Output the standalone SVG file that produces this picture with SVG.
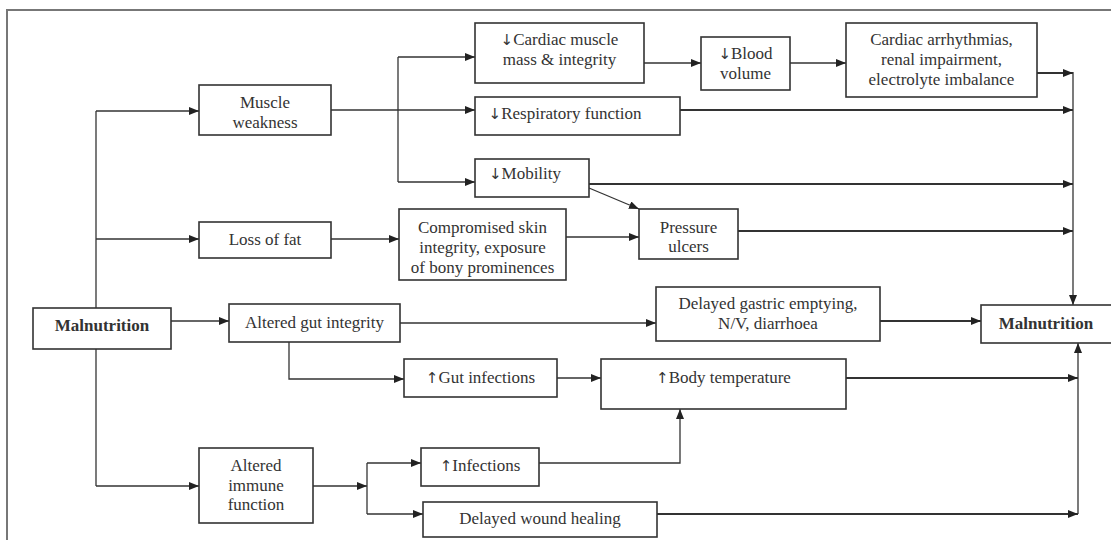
<svg xmlns="http://www.w3.org/2000/svg" width="1111" height="540" viewBox="0 0 1111 540">
<style>
.box{fill:#fff;stroke:#333;stroke-width:1.6}
.t{font-family:"Liberation Serif","Times New Roman",serif;font-size:17px;fill:#333;text-anchor:middle}
.b{font-weight:bold}
.ar{font-family:"DejaVu Sans",sans-serif;font-size:15px;fill:#333}
.c{fill:none;stroke:#333;stroke-width:1.3}
.k{fill:none;stroke:#333;stroke-width:1.9}
.a{marker-end:url(#ah)}
</style>
<defs>
<marker id="ah" viewBox="0 0 10 8" refX="10" refY="4" markerWidth="10" markerHeight="8" markerUnits="userSpaceOnUse" orient="auto">
<path d="M0,0 L10,4 L0,8 z" fill="#222"/>
</marker>
</defs>
<rect width="1111" height="540" fill="#fff"/>
<path d="M7,540 V10 H1111" fill="none" stroke="#777" stroke-width="2"/>

<g id="connectors">
<path class="c" d="M96,111 V308"/>
<path class="c" d="M96,349 V486"/>
<path class="c a" d="M96,111 H199"/>
<path class="c a" d="M96,239 H199"/>
<path class="c a" d="M96,486 H199"/>
<path class="c a" d="M171,321 H229"/>
<path class="c a" d="M331,110 H475"/>
<path class="c" d="M398,57 V182"/>
<path class="c a" d="M398,57 H475"/>
<path class="c a" d="M398,182 H475"/>
<path class="c a" d="M644,63 H701"/>
<path class="c a" d="M790,63 H846"/>
<path class="k a" d="M1037,73 H1073"/>
<path class="k a" d="M680,110 H1073"/>
<path class="k a" d="M589,184 H1073"/>
<path class="k a" d="M738,231 H1073"/>
<path class="c a" d="M1073,72 V305"/>
<path class="c a" d="M589,188 L639,209"/>
<path class="c a" d="M331,239 H399"/>
<path class="c a" d="M566,237 H639"/>
<path class="c a" d="M400,323 H656"/>
<path class="k a" d="M880,321 H981"/>
<path class="c a" d="M289,342 V379 H404"/>
<path class="c a" d="M557,378 H601"/>
<path class="k a" d="M846,378 H1078"/>
<path class="c a" d="M313,486 H367"/>
<path class="c" d="M367,463 V514"/>
<path class="c a" d="M367,463 H421"/>
<path class="c a" d="M367,514 H423"/>
<path class="c a" d="M539,463 H680 V409"/>
<path class="k a" d="M657,514 H1078"/>
<path class="c a" d="M1078,514 V343"/>
</g>

<g id="malnutrition-left"><rect class="box" x="33" y="308" width="138" height="41"/><text class="t b" x="102" y="331">Malnutrition</text></g>
<g id="muscle-weakness"><rect class="box" x="199" y="85" width="132" height="50"/><text class="t" x="265" y="108">Muscle</text><text class="t" x="265" y="128">weakness</text></g>
<g id="loss-of-fat"><rect class="box" x="199" y="222" width="132" height="36"/><text class="t" x="265" y="245">Loss of fat</text></g>
<g id="altered-gut"><rect class="box" x="229" y="304" width="171" height="38"/><text class="t" x="314.5" y="328">Altered gut integrity</text></g>
<g id="altered-immune"><rect class="box" x="199" y="448" width="114" height="75"/><text class="t" x="256" y="471">Altered</text><text class="t" x="256" y="491">immune</text><text class="t" x="256" y="510">function</text></g>
<g id="cardiac-muscle"><rect class="box" x="475" y="23" width="169" height="60"/><text class="t" x="559.5" y="45"><tspan class="ar">↓</tspan>Cardiac muscle</text><text class="t" x="559.5" y="65">mass &amp; integrity</text></g>
<g id="respiratory"><rect class="box" x="475" y="97" width="205" height="38"/><text class="t" x="565" y="119"><tspan class="ar">↓</tspan>Respiratory function</text></g>
<g id="mobility"><rect class="box" x="475" y="159" width="114" height="38"/><text class="t" x="525" y="179"><tspan class="ar">↓</tspan>Mobility</text></g>
<g id="compromised-skin"><rect class="box" x="399" y="209" width="167" height="71"/><text class="t" x="482.5" y="233">Compromised skin</text><text class="t" x="482.5" y="253">integrity, exposure</text><text class="t" x="482.5" y="273">of bony prominences</text></g>
<g id="blood-volume"><rect class="box" x="701" y="37" width="89" height="53"/><text class="t" x="745.5" y="59"><tspan class="ar">↓</tspan>Blood</text><text class="t" x="745.5" y="79">volume</text></g>
<g id="cardiac-arrhythmias"><rect class="box" x="846" y="23" width="191" height="74"/><text class="t" x="941.5" y="45">Cardiac arrhythmias,</text><text class="t" x="941.5" y="65">renal impairment,</text><text class="t" x="941.5" y="85">electrolyte imbalance</text></g>
<g id="pressure-ulcers"><rect class="box" x="639" y="209" width="99" height="50"/><text class="t" x="688.5" y="233">Pressure</text><text class="t" x="688.5" y="252">ulcers</text></g>
<g id="delayed-gastric"><rect class="box" x="656" y="287" width="224" height="54"/><text class="t" x="768" y="309">Delayed gastric emptying,</text><text class="t" x="768" y="329">N/V, diarrhoea</text></g>
<g id="malnutrition-right"><rect class="box" x="981" y="305" width="135" height="38"/><text class="t b" x="1046" y="329">Malnutrition</text></g>
<g id="gut-infections"><rect class="box" x="404" y="359" width="153" height="38"/><text class="t" x="480.5" y="383"><tspan class="ar">↑</tspan>Gut infections</text></g>
<g id="body-temperature"><rect class="box" x="601" y="359" width="245" height="50"/><text class="t" x="723.5" y="383"><tspan class="ar">↑</tspan>Body temperature</text></g>
<g id="infections"><rect class="box" x="421" y="448" width="118" height="38"/><text class="t" x="480" y="471"><tspan class="ar">↑</tspan>Infections</text></g>
<g id="wound-healing"><rect class="box" x="423" y="502" width="234" height="35"/><text class="t" x="540" y="524">Delayed wound healing</text></g>
</svg>
